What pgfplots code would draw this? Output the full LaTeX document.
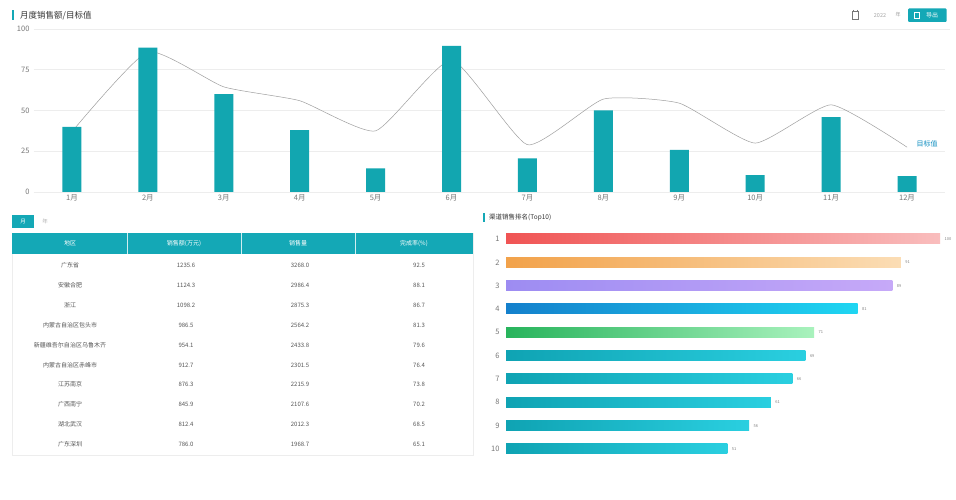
\documentclass[border=0pt]{standalone}
\usepackage{pgfplots}
\pgfplotsset{compat=1.18}
\usepackage{fontspec}
\newfontfamily\cjk{Noto Sans CJK SC}
\definecolor{tealbar}{HTML}{12A6B0}
\definecolor{hdr}{HTML}{14A8B6}
\definecolor{gridc}{HTML}{EDEDED}
\definecolor{tickc}{HTML}{777777}
\definecolor{txt}{HTML}{555555}
\definecolor{ca1}{HTML}{F05454}\definecolor{cb1}{HTML}{F9BDBD}
\definecolor{ca2}{HTML}{F2A24A}\definecolor{cb2}{HTML}{FBDDB5}
\definecolor{ca3}{HTML}{9D8CF2}\definecolor{cb3}{HTML}{C6A9F8}
\definecolor{ca4}{HTML}{1480CC}\definecolor{cb4}{HTML}{1FD6F2}
\definecolor{ca5}{HTML}{28B45C}\definecolor{cb5}{HTML}{A9F2BD}
\definecolor{ca6}{HTML}{0FA3B3}\definecolor{cb6}{HTML}{2ACFE0}
\begin{document}
\cjk
\begin{tikzpicture}
\fill[white] (0,0) rectangle (956pt,-500pt);
% ---------- top chart ----------
\begin{axis}[
  at={(34pt,-192pt)}, anchor=south west, scale only axis,
  width=911pt, height=163pt,
  xmin=-0.5, xmax=11.5, ymin=0, ymax=100,
  axis line style={draw=none}, tick style={draw=none},
  ymajorgrids, grid style={gridc, line width=0.6pt},
  ytick={0,25,50,75,100},
  xtick={0,...,11},
  xticklabels={1月,2月,3月,4月,5月,6月,7月,8月,9月,10月,11月,12月},
  /pgf/number format/assume math mode=true,
  ticklabel style={font=\fontsize{7.5}{8}\selectfont, text=tickc},
  xticklabel style={yshift=1pt},
  yticklabel style={xshift=-1pt},
  clip=false,
]
\addplot[smooth, tension=0.3, color=gray!75, line width=0.5pt, no marks] coordinates {
 (0,37) (1,86) (2,64.5) (3,56) (4,37.5) (5,81) (6,29) (7,57) (8,54.5) (9,30) (10,53.5) (11,27.5)};
\addplot[ybar, bar width=19pt, bar shift=0pt, fill=tealbar, draw=none] coordinates {
 (0,40) (1,88.5) (2,60) (3,38) (4,14.5) (5,89.6) (6,20.7) (7,50) (8,25.8) (9,10.4) (10,46) (11,9.8)};
\node[anchor=west, text=hdr!85!blue, font=\fontsize{7}{7}\selectfont] at (axis cs:11.08,29.5) {目标值};
\end{axis}
% ---------- ranking chart ----------
\begin{axis}[
  at={(506pt,-227.3pt)}, anchor=north west, scale only axis,
  width=444pt, height=233.3pt,
  xmin=0, xmax=102.3, ymin=0.5, ymax=10.5, y dir=reverse,
  axis line style={draw=none}, tick style={draw=none},
  xtick=\empty, ytick={1,...,10},
  /pgf/number format/assume math mode=true,
  yticklabel style={font=\fontsize{7.5}{8}\selectfont, text=tickc, xshift=-3pt},
  clip=false,
  every axis plot/.append style={xbar, bar width=10pt, bar shift=0pt, draw=none,
     nodes near coords, point meta=x,
     nodes near coords style={font=\fontsize{4}{4}\selectfont, text=gray, anchor=west, xshift=1pt}},
]
\addplot[left color=ca1, right color=cb1] coordinates {(100,1)};
\addplot[left color=ca2, right color=cb2] coordinates {(91,2)};
\addplot[left color=ca3, right color=cb3] coordinates {(89,3)};
\addplot[left color=ca4, right color=cb4] coordinates {(81,4)};
\addplot[left color=ca5, right color=cb5] coordinates {(71,5)};
\addplot[left color=ca6, right color=cb6] coordinates {(69,6)};
\addplot[left color=ca6, right color=cb6] coordinates {(66,7)};
\addplot[left color=ca6, right color=cb6] coordinates {(61,8)};
\addplot[left color=ca6, right color=cb6] coordinates {(56,9)};
\addplot[left color=ca6, right color=cb6] coordinates {(51,10)};
\end{axis}
% ---------- decorations & table ----------
\begin{scope}[x=1pt,y=-1pt]
 % top title
 \fill[hdr] (12,10.5) rectangle (14.2,20);
 \node[anchor=west, text=black!80, font=\fontsize{8.5}{9}\selectfont, inner sep=0] at (20,15.5) {月度销售额/目标值};
 % top right controls
 \draw[tickc, line width=0.5pt] (852,11.5) rectangle (858.5,19);
 \draw[tickc, line width=0.5pt] (853.5,10) -- (853.5,12.5) (857,10) -- (857,12.5);
 \node[text=gray!70, font=\fontsize{5.5}{6}\selectfont, inner sep=0] at (880,15.2) {2022};
 \node[text=gray!80, font=\fontsize{5}{6}\selectfont, inner sep=0] at (898,15) {年};
 \fill[hdr, rounded corners=1pt] (908,8.5) rectangle (946.5,22);
 \draw[white, line width=0.5pt] (914,12) rectangle (919,18.5);
 \node[text=white, font=\fontsize{6}{6}\selectfont, inner sep=0] at (932,15.3) {导出};
 % separator line under top header
 \draw[gridc, line width=0.6pt] (100,29) -- (950,29);
 % ---------- table ----------
 \fill[hdr] (12,215) rectangle (34,228);
 \node[text=white, font=\fontsize{5.5}{6}\selectfont, inner sep=0] at (23,221.5) {月};
 \node[text=gray!60, font=\fontsize{5.5}{6}\selectfont, inner sep=0] at (45,221) {年};
 \draw[gridc, line width=0.5pt] (12,233) rectangle (473,455);
 \fill[hdr] (12,233) rectangle (473,254);
 \draw[white!80!hdr, line width=0.6pt] (127,233) -- (127,254) (241,233) -- (241,254) (355,233) -- (355,254);
 \foreach \x/\t in {70/地区, 184/销售额(万元), 298/销售量, 414/完成率(\%)}
   \node[text=white, font=\fontsize{6}{6}\selectfont, inner sep=0] at (\x,243.5) {\t};
 \foreach \y/\a/\b/\c/\d in {
   265/广东省/1235.6/3268.0/92.5,
   285/安徽合肥/1124.3/2986.4/88.1,
   305/浙江/1098.2/2875.3/86.7,
   325/内蒙古自治区包头市/986.5/2564.2/81.3,
   345/新疆维吾尔自治区乌鲁木齐/954.1/2433.8/79.6,
   365/内蒙古自治区赤峰市/912.7/2301.5/76.4,
   384/江苏南京/876.3/2215.9/73.8,
   404/广西南宁/845.9/2107.6/70.2,
   424/湖北武汉/812.4/2012.3/68.5,
   444/广东深圳/786.0/1968.7/65.1}{
   \node[text=txt, font=\fontsize{6}{6}\selectfont, inner sep=0] at (70,\y) {\a};
   \node[text=txt, font=\fontsize{6}{6}\selectfont, inner sep=0] at (186,\y) {\b};
   \node[text=txt, font=\fontsize{6}{6}\selectfont, inner sep=0] at (300,\y) {\c};
   \node[text=txt, font=\fontsize{6}{6}\selectfont, inner sep=0] at (419,\y) {\d};
 }
 % ranking title
 \fill[hdr] (482.5,213) rectangle (484.5,222);
 \node[anchor=west, text=black!80, font=\fontsize{6.5}{7}\selectfont, inner sep=0] at (489,218) {渠道销售排名(Top10)};
\end{scope}
\end{tikzpicture}
\end{document}
